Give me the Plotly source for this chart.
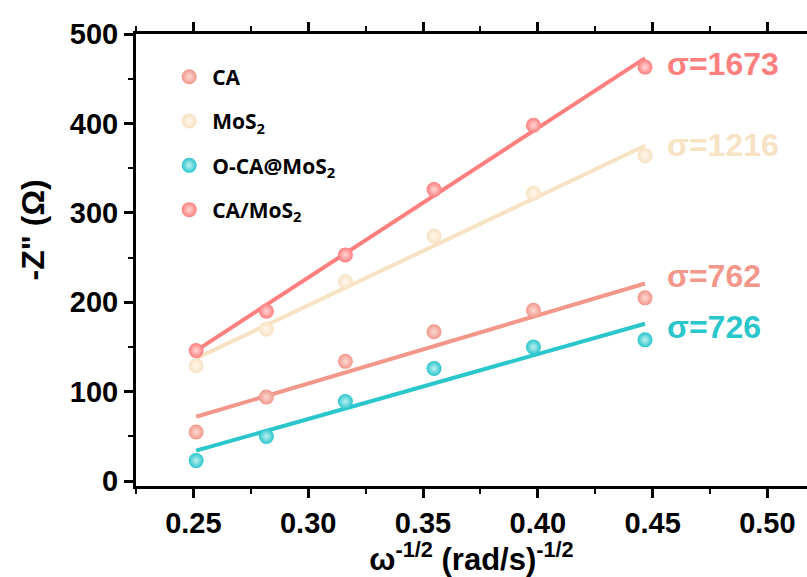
import plotly.graph_objects as go

# ---- data ----
x_vals = [0.2512, 0.2818, 0.3162, 0.3548, 0.3981, 0.4467]
series_names = ["CA", "MoS<sub>2</sub>", "O-CA@MoS<sub>2</sub>", "CA/MoS<sub>2</sub>"]
ca = [55, 94, 134, 167, 191, 205]
mos2 = [129, 170, 223, 274, 322, 364]
oca_mos2 = [23, 50, 89, 126, 150, 158]
ca_mos2 = [146, 190, 253, 326, 398, 463]
sigma = [762, 1216, 726, 1673]          # fitted slopes (Warburg coefficient)
intercept = [-119.4, -168.2, -148.3, -274.3]
sigma_label_y = [229, 376, 172, 467]
colors = ["#F2978A", "#F7E2C3", "#29C6CC", "#FF7E7E"]
tints = ["#FBDAD4", "#FFF7EC", "#BFF0F2", "#FFD6D6"]
x_ticks = [0.25, 0.30, 0.35, 0.40, 0.45, 0.50]
y_ticks = [0, 100, 200, 300, 400, 500]

ys = [ca, mos2, oca_mos2, ca_mos2]

fig = go.Figure()

# fit lines
for i in range(4):
    xl = [x_vals[0], x_vals[-1]]
    yl = [sigma[i] * xv + intercept[i] for xv in xl]
    fig.add_trace(go.Scatter(x=xl, y=yl, mode="lines",
                             line=dict(color=colors[i], width=4),
                             showlegend=False, hoverinfo="skip"))

# points
for i in range(4):
    fig.add_trace(go.Scatter(
        x=x_vals, y=ys[i], mode="markers", name=series_names[i],
        legendgroup=str(i),
        marker=dict(size=15, color=colors[i], line=dict(width=0),
                    gradient=dict(type="radial", color=tints[i]))))

# sigma labels
for i in range(4):
    fig.add_annotation(x=0.4553, y=sigma_label_y[i], xref="x", yref="y",
                       text="σ=%d" % sigma[i], showarrow=False,
                       xanchor="left", yanchor="middle",
                       font=dict(family="Liberation Sans", size=32,
                                 color=colors[i], weight="bold"))

# y axis title as annotation
fig.add_annotation(x=-0.153, y=0.566, xref="paper", yref="paper",
                   text='-Z" (Ω)', textangle=-90, showarrow=False,
                   xanchor="center", yanchor="middle",
                   font=dict(family="Liberation Sans", size=32,
                             color="black", weight="bold"))

fig.update_layout(
    width=807, height=577,
    margin=dict(l=136, r=0, t=34, b=91),
    plot_bgcolor="white", paper_bgcolor="white",
    legend=dict(x=0.045, y=0.95, xanchor="left", yanchor="top",
                bgcolor="rgba(0,0,0,0)", tracegroupgap=14, itemwidth=36,
                font=dict(family="Open Sans", size=21, color="black",
                          weight="bold")),
    xaxis=dict(range=[0.225, 0.51725], tickvals=x_ticks,
               ticktext=["%.2f" % v for v in x_ticks],
               showgrid=False, zeroline=False,
               showline=True, linecolor="black", linewidth=3,
               mirror="ticks",
               ticks="outside", ticklen=9, tickwidth=2.5, tickcolor="black",
               minor=dict(dtick=0.025, tick0=0.225, ticks="outside",
                          ticklen=5, tickwidth=2, tickcolor="black"),
               tickfont=dict(family="Liberation Sans", size=29,
                             color="black", weight="bold"),
               title=dict(text="ω<sup>-1/2</sup> (rad/s)<sup>-1/2</sup>",
                          standoff=8,
                          font=dict(family="Liberation Sans", size=31,
                                    color="black", weight="bold"))),
    yaxis=dict(range=[-5.4, 500], tickvals=y_ticks,
               showgrid=False, zeroline=False,
               showline=True, linecolor="black", linewidth=3,
               ticks="outside", ticklen=9, tickwidth=2.5, tickcolor="black",
               minor=dict(dtick=50, tick0=0, ticks="outside",
                          ticklen=5, tickwidth=2, tickcolor="black"),
               tickfont=dict(family="Liberation Sans", size=29,
                             color="black", weight="bold")),
)

fig.write_html("out.html")
